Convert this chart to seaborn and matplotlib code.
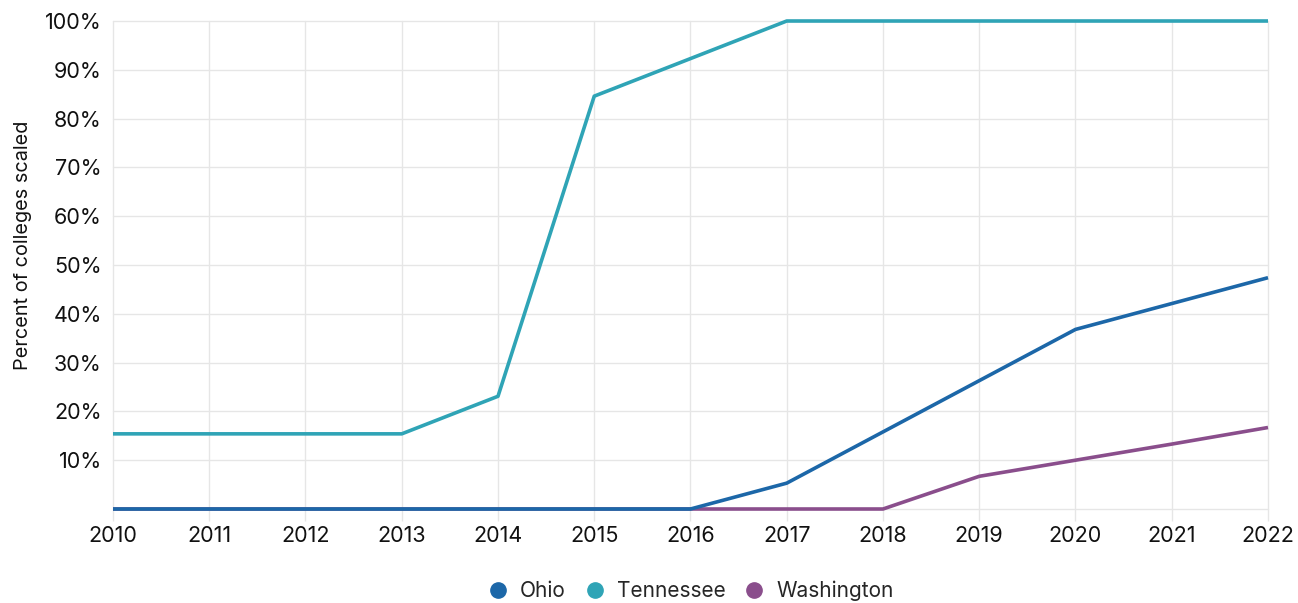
import matplotlib
matplotlib.use("Agg")
import matplotlib.pyplot as plt
import seaborn as sns
import pandas as pd
from matplotlib.lines import Line2D

years = list(range(2010, 2023))
ohio = [0, 0, 0, 0, 0, 0, 0, 5.3, 15.8, 26.3, 36.8, 42.1, 47.4]
tennessee = [15.4, 15.4, 15.4, 15.4, 23.1, 84.6, 92.3, 100, 100, 100, 100, 100, 100]
washington = [0, 0, 0, 0, 0, 0, 0, 0, 0, 6.7, 10.0, 13.3, 16.7]
states = ["Ohio", "Tennessee", "Washington"]
colors = ["#1c67a8", "#2fa4b6", "#8a4e8c"]
y_ticks = [10, 20, 30, 40, 50, 60, 70, 80, 90, 100]

df = pd.DataFrame({
    "year": years * 3,
    "pct": ohio + tennessee + washington,
    "state": [s for s in states for _ in years],
})

sns.set_theme(style="white")
plt.rcParams["font.family"] = ["Inter", "DejaVu Sans"]

fig = plt.figure(figsize=(12.98, 6.03), dpi=100)
ax = fig.add_axes([113 / 1298, 1 - 509 / 603, (1268 - 113) / 1298, (509 - 21) / 603])

sns.lineplot(data=df, x="year", y="pct", hue="state", hue_order=states,
             palette=colors, linewidth=2.6, ax=ax, legend=False)
# Ohio sits on top of Washington along the zero baseline
for line, st in zip(ax.lines, states):
    line.set_zorder({"Ohio": 5, "Tennessee": 4, "Washington": 3}[st])
    line.set_solid_capstyle("butt")
    line.set_clip_on(False)

ax.set_xlim(2010, 2022)
ax.set_ylim(0, 100)
ax.set_xticks(years)
ax.set_xticklabels([str(y) for y in years])
ax.set_yticks(y_ticks)
ax.set_yticklabels([f"{v}%" for v in y_ticks])
ax.set_xlabel("")
ax.set_ylabel("Percent of colleges scaled", fontsize=14.3, color="#111111")
ax.yaxis.set_label_coords(-0.07, 0.54)

for v in [0] + y_ticks:
    ax.axhline(v, color="#e6e6e6", linewidth=1.0, zorder=0, clip_on=False)
for yr in years:
    ax.axvline(yr, color="#e6e6e6", linewidth=1.0, zorder=0, clip_on=False)
ax.vlines(years, -2.5, 0, color="#e6e6e6", linewidth=1.0, clip_on=False, zorder=0)

for s in ax.spines.values():
    s.set_visible(False)
ax.tick_params(axis="both", length=0, labelsize=15.5, colors="#111111")
ax.tick_params(axis="x", pad=12)
ax.tick_params(axis="y", pad=8)

handles = [Line2D([0], [0], marker="o", linestyle="", markersize=11,
                  markerfacecolor=c, markeredgecolor=c) for c in colors]
fig.legend(handles, states, loc="center", bbox_to_anchor=(0.528, 1 - 591 / 603),
           ncol=3, frameon=False, fontsize=15, handletextpad=0.05,
           columnspacing=0.4)

fig.savefig("out.png", dpi=100, facecolor="white")
